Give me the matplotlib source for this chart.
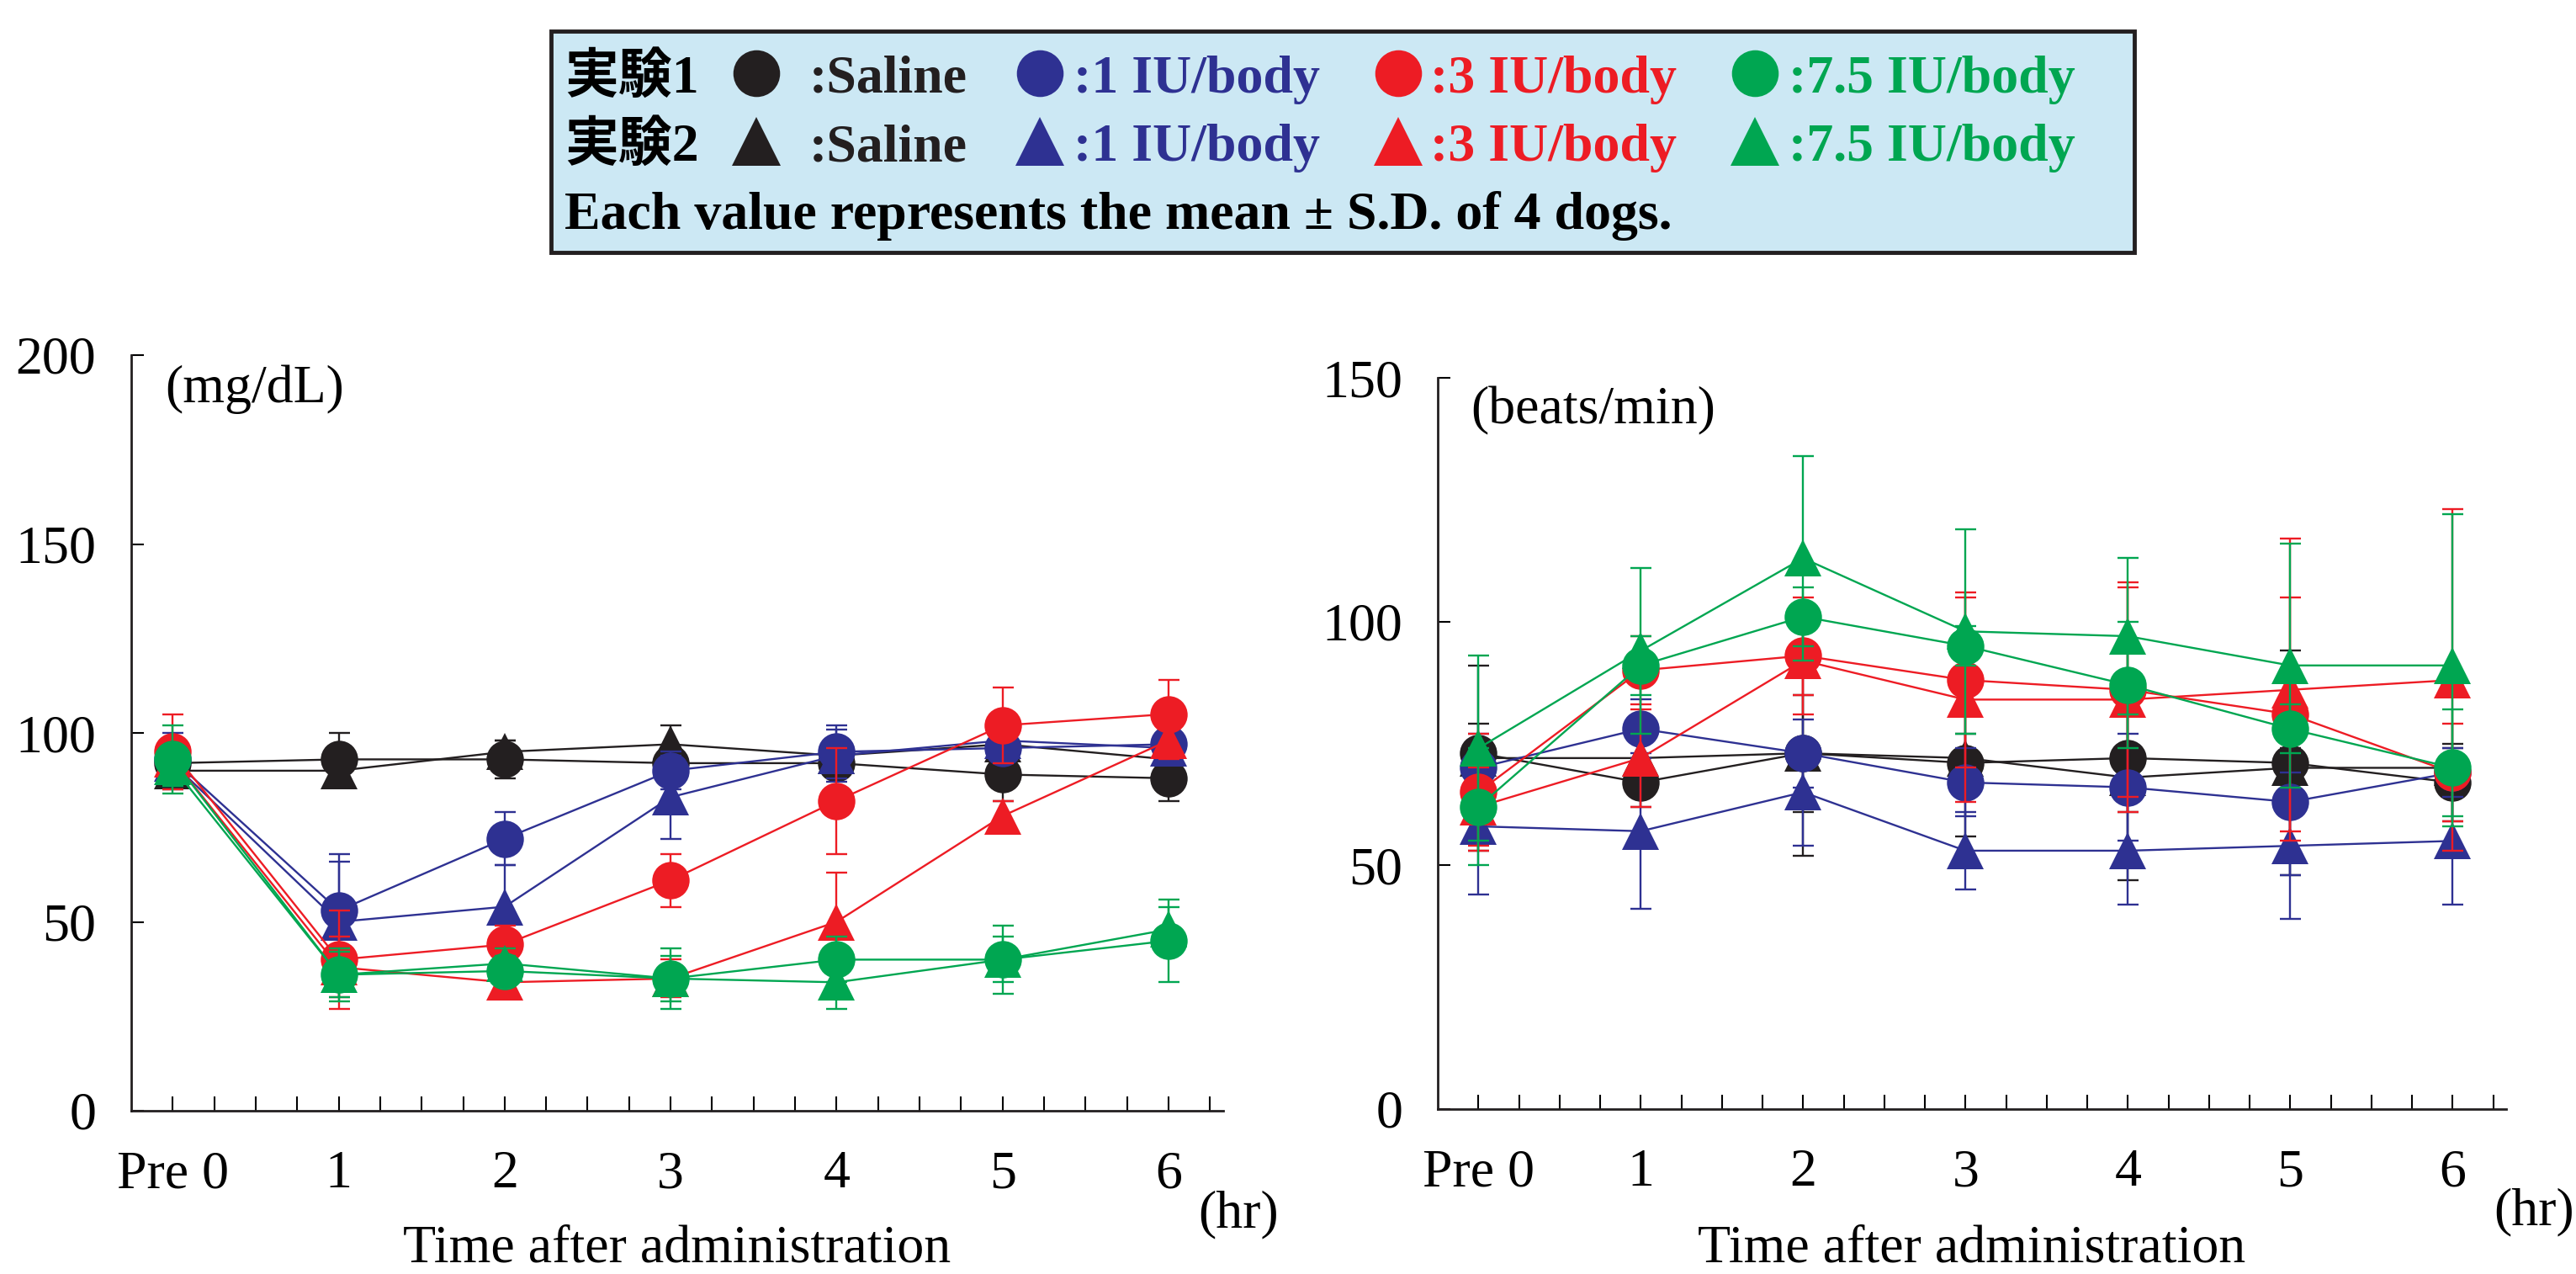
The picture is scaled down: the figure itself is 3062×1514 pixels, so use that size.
import matplotlib
matplotlib.use("Agg")
import matplotlib.pyplot as plt
from matplotlib.lines import Line2D
from matplotlib.patches import Rectangle

# time points (hr), 0 = Pre 0
times = [0, 1, 2, 3, 4, 5, 6]
xlabels = ["Pre 0", "1", "2", "3", "4", "5", "6"]

groups = ["Saline", "1 IU/body", "3 IU/body", "7.5 IU/body"]
colors = ["#231f20", "#2e3192", "#ed1c24", "#00a651"]

# blood glucose (mg/dL), experiment 1 (circles) and 2 (triangles)
glc_exp1 = [
    [92, 93, 93, 92, 92, 89, 88],
    [93, 53, 72, 90, 95, 96, 97],
    [95, 40, 44, 61, 82, 102, 105],
    [93, 36, 37, 35, 40, 40, 45],
]
glc_exp1_sd = [
    [4, 7, 5, 4, 3, 7, 6],
    [7, 15, 7, 5, 7, 3, 3],
    [10, 13, 5, 7, 14, 10, 9],
    [9, 7, 4, 8, 6, 9, 11],
]
glc_exp2 = [
    [90, 90, 95, 97, 94, 97, 93],
    [92, 50, 54, 83, 94, 98, 96],
    [93, 38, 34, 35, 50, 78, 98],
    [91, 36, 39, 35, 34, 40, 48],
]
glc_exp2_sd = [
    [5, 3, 3, 5, 3, 3, 3],
    [5, 16, 11, 11, 7, 3, 3],
    [5, 8, 3, 5, 13, 4, 5],
    [5, 6, 4, 6, 7, 6, 6],
]

# heart rate (beats/min)
hr_exp1 = [
    [73, 67, 73, 71, 72, 71, 67],
    [70, 78, 73, 67, 66, 63, 69],
    [65, 90, 93, 88, 86, 81, 69],
    [62, 91, 101, 95, 87, 78, 70],
]
hr_exp1_sd = [
    [6, 5, 12, 15, 11, 23, 8],
    [7, 6, 7, 7, 11, 15, 5],
    [12, 7, 12, 18, 22, 24, 10],
    [12, 6, 6, 4, 13, 5, 12],
]
hr_exp2 = [
    [72, 72, 73, 72, 68, 70, 70],
    [58, 57, 65, 53, 53, 54, 55],
    [62, 72, 92, 84, 84, 86, 88],
    [74, 94, 113, 98, 97, 91, 91],
]
hr_exp2_sd = [
    [19, 4, 21, 5, 21, 4, 4],
    [14, 16, 11, 8, 11, 15, 13],
    [8, 10, 7, 21, 23, 31, 35],
    [19, 17, 21, 21, 16, 25, 31],
]

W, H = 3062, 1514
serif = ["Liberation Serif", "Noto Sans CJK JP"]
plt.rcParams["font.family"] = serif

fig = plt.figure(figsize=(W / 100, H / 100), dpi=100)


def draw_series(ax, y, sd, color, marker, z):
    # error bars with caps, then line + markers on top
    ax.errorbar(times, y, yerr=sd, fmt="none", ecolor=color, elinewidth=1.7,
                capsize=9, capthick=1.7, clip_on=False, zorder=z)
    ax.plot(times, y, color=color, marker=marker, ms=32, mew=0, lw=1.7,
            clip_on=False, zorder=z)


def draw_panel(ax, exp1, sd1, exp2, sd2, ymax, unit):
    for i in range(4):
        draw_series(ax, exp1[i], sd1[i], colors[i], "o", 3 + i)
        draw_series(ax, exp2[i], sd2[i], colors[i], "^", 3 + i)
    ax.set_xlim(-0.25, 6.33)
    ax.set_ylim(0, ymax)
    for s in ["top", "right"]:
        ax.spines[s].set_visible(False)
    for s in ["left", "bottom"]:
        ax.spines[s].set_linewidth(2)
        ax.spines[s].set_color("#231f20")
    ax.set_xticks(times)
    ax.set_xticklabels(xlabels)
    ax.set_xticks([t / 4 for t in range(1, 26) if t % 4 != 0], minor=True)
    ax.set_yticks(range(0, ymax + 1, 50))
    ax.tick_params(axis="x", which="both", direction="in", length=12,
                   width=1.5, pad=34, labelsize=46)
    ax.tick_params(axis="y", direction="in", length=11, width=1.5, pad=30,
                   labelsize=46)
    ax.text(0.031, 0.955, unit, transform=ax.transAxes, fontsize=46,
            va="center", ha="left")


ax1 = fig.add_axes([156 / W, 1 - 1320 / H, 1298 / W, 898 / H])
draw_panel(ax1, glc_exp1, glc_exp1_sd, glc_exp2, glc_exp2_sd, 200, "(mg/dL)")
ax2 = fig.add_axes([1709 / W, 1 - 1318 / H, 1270 / W, 869 / H])
draw_panel(ax2, hr_exp1, hr_exp1_sd, hr_exp2, hr_exp2_sd, 150, "(beats/min)")

fig.text(1472 / W, 1 - 1443 / H, "(hr)", fontsize=46, ha="center", va="center")
fig.text(3012 / W, 1 - 1440 / H, "(hr)", fontsize=46, ha="center", va="center")
fig.text(805 / W, 1 - 1500 / H, "Time after administration", fontsize=46,
         ha="center", va="baseline")
fig.text(2344 / W, 1 - 1500 / H, "Time after administration", fontsize=46,
         ha="center", va="baseline")

# legend box
fig.add_artist(Rectangle((655 / W, 1 - 300 / H), (2537 - 655) / W, 263 / H,
                         transform=fig.transFigure, facecolor="#cce8f4",
                         edgecolor="#231f20", lw=3.5))
row_base = [110, 191]
row_mid = [87, 168]
marker_x = [899, 1236, 1662, 2086]
label_x = [962, 1276, 1700, 2126]
for r, (mk, name) in enumerate([("o", "実験1"), ("^", "実験2")]):
    fig.text(671 / W, 1 - row_base[r] / H, name, fontsize=46, weight="bold",
             family=serif, va="baseline")
    for i in range(4):
        fig.add_artist(Line2D([marker_x[i] / W], [1 - row_mid[r] / H],
                              marker=mk, ms=40 if mk == "o" else 42, mew=0,
                              color=colors[i], transform=fig.transFigure))
        fig.text(label_x[i] / W, 1 - row_base[r] / H, ":" + groups[i],
                 fontsize=46, weight="bold", color=colors[i], va="baseline")
fig.text(671 / W, 1 - 272 / H, "Each value represents the mean ± S.D. of 4 dogs.",
         fontsize=46, weight="bold", va="baseline")

fig.savefig("out.png", dpi=100)
